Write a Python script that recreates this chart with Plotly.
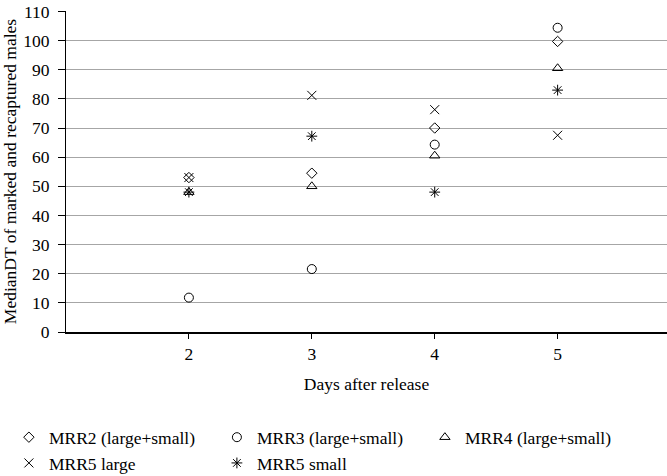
import plotly.graph_objects as go

days = [2, 3, 4, 5]
mrr2 = [53, 54.5, 70, 99.7]
mrr3 = [11.8, 21.6, 64.3, 104.4]
mrr4 = [48, 50, 60.5, 90.5]
mrr5_large = [53, 81.2, 76.3, 67.5]
mrr5_small = [48, 67.2, 48, 83]

names = ["MRR2 (large+small)", "MRR3 (large+small)", "MRR4 (large+small)", "MRR5 large", "MRR5 small"]
series = [mrr2, mrr3, mrr4, mrr5_large, mrr5_small]
symbols = ["diamond-open", "circle-open", "triangle-up-open", "x-thin-open", "asterisk-open"]
sizes = [8, 9, 9, 9, 9]

fig = go.Figure()
for n, s, sym, sz in zip(names, series, symbols, sizes):
    fig.add_trace(go.Scatter(
        x=days, y=s, mode="markers", name=n,
        marker=dict(symbol=sym, size=sz, color="black", line=dict(color="black", width=1)),
    ))

font = "Liberation Serif, Times New Roman, serif"
fig.update_layout(
    width=667, height=476,
    margin=dict(l=66, r=0, t=11, b=144, autoexpand=False),
    paper_bgcolor="white", plot_bgcolor="white",
    font=dict(family=font, size=17.5, color="black"),
    showlegend=True,
    legend=dict(orientation="h", x=-0.095, y=-0.272, xanchor="left", yanchor="top",
                entrywidth=163, entrywidthmode="pixels",
                font=dict(family=font, size=17.5, color="black"),
                itemwidth=30, tracegroupgap=0),
    xaxis=dict(range=[1, 5.89], tickvals=[2, 3, 4, 5], ticks="outside", ticklen=5,
               tickcolor="black", showline=True, linecolor="black", linewidth=1.5,
               showgrid=False, zeroline=False, automargin=False,
               title=dict(text="Days after release", font=dict(size=17.5)),
               tickfont=dict(size=17.5)),
    yaxis=dict(range=[0, 110.15], tickvals=list(range(0, 111, 10)), ticks="outside", ticklen=7,
               tickcolor="black", ticklabelstandoff=5, ticklabeloverflow="allow",
               showline=True, linecolor="black", linewidth=1,
               showgrid=True, gridcolor="#a6a6a6", gridwidth=1, zeroline=False, automargin=False,
               title=dict(text="MedianDT of marked and recaptured males", font=dict(size=17.5)),
               tickfont=dict(size=17.5)),
)

fig.write_html("out.html", config={"displayModeBar": False},
               post_script="document.body.style.margin='0';document.body.style.overflow='hidden';")
